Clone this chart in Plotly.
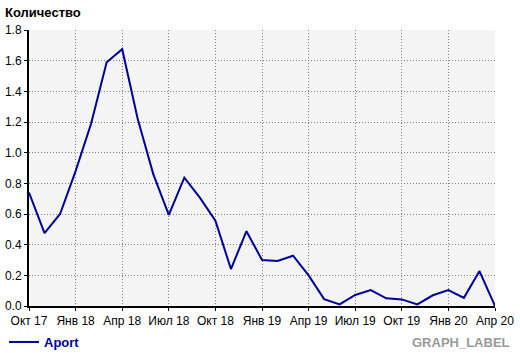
import plotly.graph_objects as go

months = ["Окт 17","Ноя 17","Дек 17","Янв 18","Фев 18","Мар 18","Апр 18","Май 18","Июн 18",
          "Июл 18","Авг 18","Сен 18","Окт 18","Ноя 18","Дек 18","Янв 19","Фев 19","Мар 19",
          "Апр 19","Май 19","Июн 19","Июл 19","Авг 19","Сен 19","Окт 19","Ноя 19","Дек 19",
          "Янв 20","Фев 20","Мар 20","Апр 20"]
aport = [0.74, 0.475, 0.60, 0.88, 1.19, 1.59, 1.675, 1.22, 0.86,
         0.594, 0.837, 0.707, 0.557, 0.241, 0.488, 0.30, 0.294, 0.328,
         0.20, 0.045, 0.01, 0.072, 0.104, 0.05, 0.043, 0.01, 0.07,
         0.104, 0.053, 0.228, 0.0]
tick_labels = ["Окт 17","Янв 18","Апр 18","Июл 18","Окт 18","Янв 19","Апр 19",
               "Июл 19","Окт 19","Янв 20","Апр 20"]
y_ticks = [0.0, 0.2, 0.4, 0.6, 0.8, 1.0, 1.2, 1.4, 1.6, 1.8]

x_idx = list(range(len(months)))
tick_pos = [months.index(t) for t in tick_labels]

W, H = 520, 353
L, R, T, B = 29, 25, 30, 47
pw, ph = W - L - R, H - T - B
FONT = "Liberation Sans, Arial, sans-serif"

fig = go.Figure()
fig.add_trace(go.Scatter(
    x=x_idx, y=aport, mode="lines", name="Aport",
    line=dict(color="#000099", width=2),
))

fig.update_layout(
    width=W, height=H,
    margin=dict(l=L, r=R, t=T, b=B, pad=0, autoexpand=False),
    paper_bgcolor="white",
    plot_bgcolor="#f4f4f4",
    font=dict(family=FONT, size=12, color="black"),
    title=dict(text="<b>Количество</b>", xref="container", yref="container",
               x=5 / W, y=1 - 12 / H, xanchor="left", yanchor="middle",
               font=dict(family=FONT, size=13, color="black")),
    showlegend=True,
    legend=dict(orientation="h", x=(4 - L) / pw, y=(T + ph - 342) / ph,
                xanchor="left", yanchor="middle",
                font=dict(family=FONT, size=13, color="#000099", weight="bold"),
                bgcolor="rgba(0,0,0,0)", itemwidth=30),
    xaxis=dict(range=[0, len(months) - 1], tickmode="array", tickvals=tick_pos,
               ticktext=tick_labels, showgrid=True, gridcolor="#808080",
               griddash="1px,2px", gridwidth=1, showline=True, linecolor="black",
               linewidth=2, ticks="outside", ticklen=3, tickcolor="black",
               zeroline=False, fixedrange=True, automargin=False),
    yaxis=dict(range=[0, 1.8], tickmode="array", tickvals=y_ticks,
               ticktext=[f"{v:.1f}" for v in y_ticks], showgrid=True,
               gridcolor="#808080", griddash="1px,2px", gridwidth=1,
               showline=True, linecolor="black", linewidth=2, ticks="outside",
               ticklen=3, tickcolor="black", zeroline=False, fixedrange=True,
               automargin=False),
    annotations=[dict(text="<b>GRAPH_LABEL</b>", xref="paper", yref="paper",
                      x=(512 - L) / pw, y=(T + ph - 342.5) / ph, xanchor="right",
                      yanchor="middle", showarrow=False,
                      font=dict(family=FONT, size=13, color="#999999"))],
)

fig.write_html("out.html")
